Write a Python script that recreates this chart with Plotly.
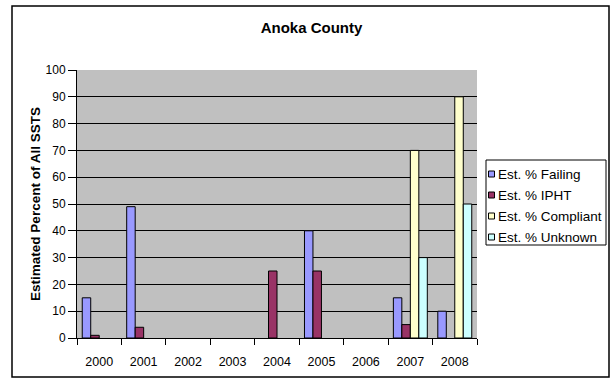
import plotly.graph_objects as go

years = ["2000", "2001", "2002", "2003", "2004", "2005", "2006", "2007", "2008"]
failing = [15, 49, None, None, None, 40, None, 15, 10]
ipht = [1, 4, None, None, 25, 25, None, 5, None]
compliant = [None, None, None, None, None, None, None, 70, 90]
unknown = [None, None, None, None, None, None, None, 30, 50]

series_names = ["Est. % Failing", "Est. % IPHT", "Est. % Compliant", "Est. % Unknown"]
series_values = [failing, ipht, compliant, unknown]
series_colors = ["#9999FF", "#993366", "#FFFFCC", "#CCFFFF"]

W, H = 611, 379
L, R, T, B = 77, 477, 70, 338  # plot area in pixels
FONT = "Arial, Liberation Sans, sans-serif"


def px_x(px):
    return (px - L) / (R - L)


def px_y(py):
    return (B - py) / (B - T)


fig = go.Figure()
for name, vals, col in zip(series_names, series_values, series_colors):
    fig.add_trace(go.Bar(
        x=years, y=vals, name=name,
        marker=dict(color=col, line=dict(color="black", width=1)),
        showlegend=False,
    ))

shapes = []
annotations = []

# outer chart border
shapes.append(dict(type="rect", xref="paper", yref="paper",
                   x0=px_x(12), x1=px_x(609), y0=px_y(377), y1=px_y(6),
                   line=dict(color="black", width=1.5), fillcolor="rgba(0,0,0,0)", layer="below"))

# legend box
lg_left, lg_right, lg_top, lg_bottom = 486, 606, 160, 245
shapes.append(dict(type="rect", xref="paper", yref="paper",
                   x0=px_x(lg_left), x1=px_x(lg_right), y0=px_y(lg_bottom), y1=px_y(lg_top),
                   line=dict(color="black", width=1), fillcolor="white"))
row_y = [174, 195, 216, 237]
for name, col, ry in zip(series_names, series_colors, row_y):
    shapes.append(dict(type="rect", xref="paper", yref="paper",
                       x0=px_x(488.5), x1=px_x(494.5), y0=px_y(ry + 3), y1=px_y(ry - 3),
                       line=dict(color="black", width=1), fillcolor=col))
    annotations.append(dict(xref="paper", yref="paper", x=px_x(496), y=px_y(ry),
                            xanchor="left", yanchor="middle", text=name, showarrow=False,
                            font=dict(family=FONT, size=13.5, color="black")))

fig.update_layout(
    width=W, height=H,
    margin=dict(l=L, r=W - R, t=T, b=H - B, pad=0, autoexpand=False),
    paper_bgcolor="white",
    plot_bgcolor="#C0C0C0",
    barmode="group",
    bargap=0.236,
    bargroupgap=0,
    title=dict(text="<b>Anoka County</b>", x=311.5 / W, y=1 - 28 / H, xref="container",
               xanchor="center", yanchor="middle",
               font=dict(family=FONT, size=15, color="black")),
    xaxis=dict(
        type="category", categoryorder="array", categoryarray=years,
        showline=True, linecolor="black", linewidth=1,
        ticks="outside", tickson="boundaries", ticklen=6, tickcolor="black",
        tickfont=dict(family=FONT, size=12.5, color="black"),
        ticklabelstandoff=12, automargin=False,
        showgrid=False, zeroline=False,
    ),
    yaxis=dict(
        range=[0, 100], dtick=10, tick0=0,
        showline=True, linecolor="black", linewidth=1,
        ticks="outside", ticklen=8, tickcolor="black",
        tickfont=dict(family=FONT, size=12, color="black"),
        showgrid=True, gridcolor="black", gridwidth=1,
        zeroline=False, automargin=False,
        title=dict(text="<b>Estimated Percent of All SSTS</b>", standoff=1,
                   font=dict(family=FONT, size=13.5, color="black")),
    ),
    shapes=shapes,
    annotations=annotations,
    showlegend=False,
)

fig.write_html("out.html")
